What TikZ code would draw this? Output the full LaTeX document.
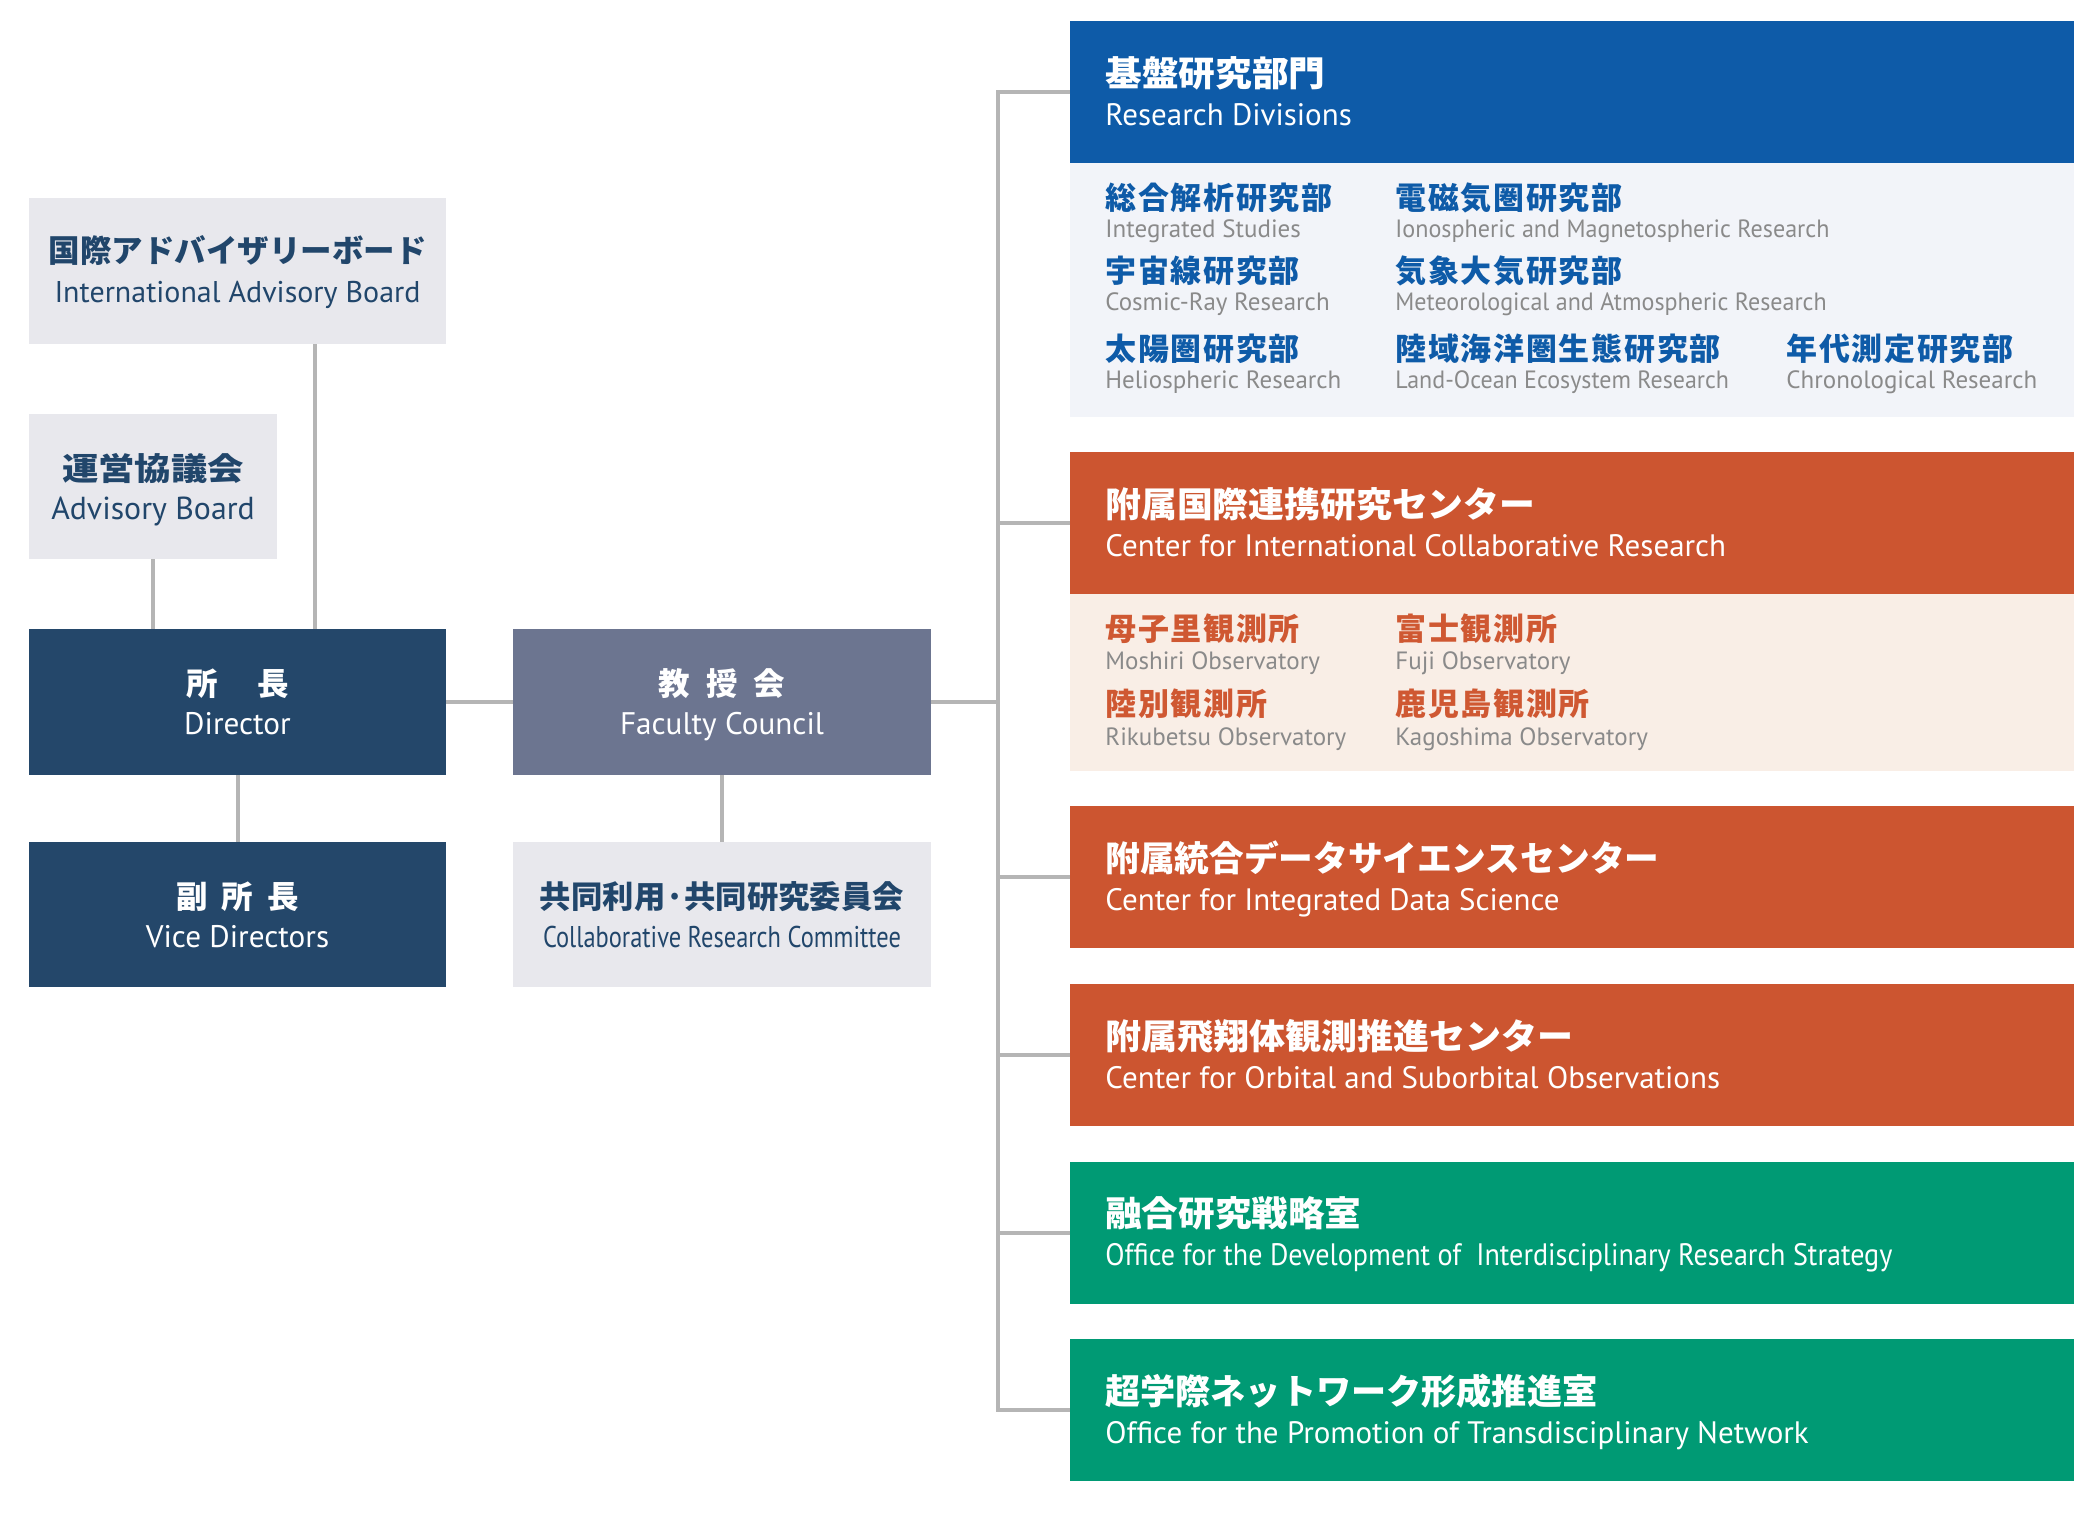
\documentclass[tikz,border=0pt]{standalone}
\usepackage{fontspec}
\usepackage{graphicx}
\setmainfont{PT Sans}
\newfontfamily\jp{Noto Sans CJK JP}
\usetikzlibrary{calc}
\definecolor{navy}{HTML}{24476A}
\definecolor{faculty}{HTML}{6C7590}
\definecolor{lgrey}{HTML}{E8E8ED}
\definecolor{tnavy}{HTML}{21466B}
\definecolor{rblue}{HTML}{0E5BA8}
\definecolor{rbluel}{HTML}{F2F4F9}
\definecolor{orng}{HTML}{CC5530}
\definecolor{orngl}{HTML}{F9EEE6}
\definecolor{orngt}{HTML}{CF5832}
\definecolor{grn}{HTML}{009A74}
\definecolor{linegrey}{HTML}{B5B5B5}
\definecolor{subgrey}{HTML}{8A8A8A}
\newcommand\fitw[2]{\resizebox{#1}{\height}{#2}}
\begin{document}
\begin{tikzpicture}[x=0.5pt,y=-0.5pt,
  box/.style={rectangle, inner sep=0pt, outer sep=0pt, draw=none},
  lbox/.style={box, minimum width=208.5pt, minimum height=73pt},
  rbox/.style={box, minimum width=502pt, minimum height=71pt},
  conn/.style={draw=linegrey, line width=2pt},
  ljp/.style={anchor=base, inner sep=0pt, font=\jp\bfseries\fontsize{15.75}{18}\selectfont},
  len/.style={anchor=base, inner sep=0pt, font=\fontsize{15}{18}\selectfont},
  len2/.style={anchor=base, inner sep=0pt, font=\fontsize{15.6}{18}\selectfont},
  rjp/.style={anchor=base west, inner sep=0pt, text=white, font=\jp\bfseries\fontsize{17.5}{20}\selectfont},
  ren/.style={anchor=base west, inner sep=0pt, text=white, font=\fontsize{15.5}{18}\selectfont},
  sjp/.style={anchor=base west, inner sep=0pt, font=\jp\bfseries\fontsize{15.5}{18}\selectfont\addfontfeature{LetterSpace=5.5}},
  sen/.style={anchor=base west, inner sep=0pt, text=subgrey, font=\fontsize{12.5}{15}\selectfont},
]
\useasboundingbox (0,0) rectangle (2100,1515);

% ---------- left boxes ----------
\node[box, fill=lgrey, minimum width=208.5pt, minimum height=73pt] (iab) at (237.5,271) {};
\node[box, fill=lgrey, minimum width=124pt, minimum height=72.5pt] (adv) at (153,486.5) {};
\node[lbox, fill=navy] (dir) at (237.5,702) {};
\node[lbox, fill=faculty, minimum width=209pt] (fc) at (722,702) {};
\node[lbox, fill=navy, minimum height=72.5pt] (vd) at (237.5,914.5) {};
\node[lbox, fill=lgrey, minimum width=209pt, minimum height=72.5pt] (crc) at (722,914.5) {};

\node[ljp, text=tnavy] (iabj) at (237.5,262) {国際アドバイザリーボード};
\node[len, text=tnavy] (iabe) at (237.5,302) {International Advisory Board};
\node[ljp, text=tnavy] (advj) at (153,480) {\fitw{91pt}{運営協議会}};
\node[len, text=tnavy, font=\fontsize{15.9}{18}\selectfont] (adve) at (153,519) {Advisory Board};
\node[ljp, text=white] (dirj) at (237.5,695) {所\hspace{20pt}長};
\node[len2, text=white] (dire) at (237.5,734) {Director};
\node[ljp, text=white] (fcj) at (722,695) {教\hspace{8pt}授\hspace{8pt}会};
\node[len2, text=white] (fce) at (722,734) {Faculty Council};
\node[ljp, text=white] (vdj) at (237.5,908) {副\hspace{7pt}所\hspace{7pt}長};
\node[len2, text=white] (vde) at (237.5,947) {Vice Directors};
\node[ljp, text=tnavy] (crcj) at (722,908) {\fitw{182pt}{共同利用·共同研究委員会}};
\node[len, text=tnavy] (crce) at (722,947) {\fitw{179pt}{Collaborative Research Committee}};

% ---------- right boxes ----------
\node[rbox, fill=rblue] (rd) at (1572,92) {};
\node[box, fill=rbluel, minimum width=502pt, minimum height=127pt] (rdl) at (1572,290) {};
\node[rbox, fill=orng] (icr) at (1572,523) {};
\node[box, fill=orngl, minimum width=502pt, minimum height=88.5pt] (icrl) at (1572,682.5) {};
\node[rbox, fill=orng] (ids) at (1572,877) {};
\node[rbox, fill=orng] (cos) at (1572,1055) {};
\node[rbox, fill=grn] (odi) at (1572,1232.5) {};
\node[rbox, fill=grn] (opt) at (1572,1410) {};

\node[rjp] (rdj) at (1105,86) {\fitw{110pt}{基盤研究部門}};
\node[ren] (rde) at (1105,125) {Research Divisions};
\node[rjp] (icrj) at (1105,517) {\fitw{215pt}{附属国際連携研究センター}};
\node[ren] (icre) at (1105,556) {Center for International Collaborative Research};
\node[rjp] (idsj) at (1105,871) {\fitw{277pt}{附属統合データサイエンスセンター}};
\node[ren] (idse) at (1105,910) {Center for Integrated Data Science};
\node[rjp] (cosj) at (1105,1049) {\fitw{234pt}{附属飛翔体観測推進センター}};
\node[ren] (cose) at (1105,1088) {Center for Orbital and Suborbital Observations};
\node[rjp] (odij) at (1105,1226.5) {\fitw{128pt}{融合研究戦略室}};
\node[ren] (odie) at (1105,1265.5) {\fitw{393.5pt}{Office for the Development of\ \ Interdisciplinary Research Strategy}};
\node[rjp] (optj) at (1105,1404) {\fitw{246pt}{超学際ネットワーク形成推進室}};
\node[ren] (opte) at (1105,1443) {Office for the Promotion of Transdisciplinary Network};

% research divisions
\node[sjp, text=rblue] (d1j) at (1105,209) {総合解析研究部};
\node[sen] (d1e) at (1105,237) {Integrated Studies};
\node[sjp, text=rblue] (d2j) at (1395,209) {電磁気圏研究部};
\node[sen] (d2e) at (1395,237) {\fitw{217pt}{Ionospheric and Magnetospheric Research}};
\node[sjp, text=rblue] (d3j) at (1105,282) {宇宙線研究部};
\node[sen] (d3e) at (1105,310) {Cosmic-Ray Research};
\node[sjp, text=rblue] (d4j) at (1395,282) {気象大気研究部};
\node[sen] (d4e) at (1395,310) {\fitw{215.6pt}{Meteorological and Atmospheric Research}};
\node[sjp, text=rblue] (d5j) at (1105,360) {太陽圏研究部};
\node[sen] (d5e) at (1105,388) {Heliospheric Research};
\node[sjp, text=rblue] (d6j) at (1395,360) {陸域海洋圏生態研究部};
\node[sen] (d6e) at (1395,388) {\fitw{166.8pt}{Land-Ocean Ecosystem Research}};
\node[sjp, text=rblue] (d7j) at (1786,360) {年代測定研究部};
\node[sen] (d7e) at (1786,388) {Chronological Research};

% observatories
\node[sjp, text=orngt] (o1j) at (1105,640) {母子里観測所};
\node[sen] (o1e) at (1105,669) {Moshiri Observatory};
\node[sjp, text=orngt] (o2j) at (1395,640) {富士観測所};
\node[sen] (o2e) at (1395,669) {Fuji Observatory};
\node[sjp, text=orngt] (o3j) at (1105,715) {陸別観測所};
\node[sen] (o3e) at (1105,745) {Rikubetsu Observatory};
\node[sjp, text=orngt] (o4j) at (1395,715) {鹿児島観測所};
\node[sen] (o4e) at (1395,745) {Kagoshima Observatory};

% ---------- connectors ----------
\coordinate (trunk) at (998,702);
\draw[conn] ([xshift=38.75pt]iab.south) -- ([xshift=38.75pt]dir.north);
\draw[conn] (adv.south) -- (adv.south |- dir.north);
\draw[conn] (dir.east) -- (fc.west);
\draw[conn] (dir.south) -- (vd.north);
\draw[conn] (fc.south) -- (crc.north);
\draw[conn] (fc.east) -- (trunk);
\draw[conn] (rd.west) -- (rd.west -| trunk) -- (opt.west -| trunk) -- (opt.west);
\draw[conn] (icr.west) -- (icr.west -| trunk);
\draw[conn] (ids.west) -- (ids.west -| trunk);
\draw[conn] (cos.west) -- (cos.west -| trunk);
\draw[conn] (odi.west) -- (odi.west -| trunk);
\end{tikzpicture}
\end{document}
